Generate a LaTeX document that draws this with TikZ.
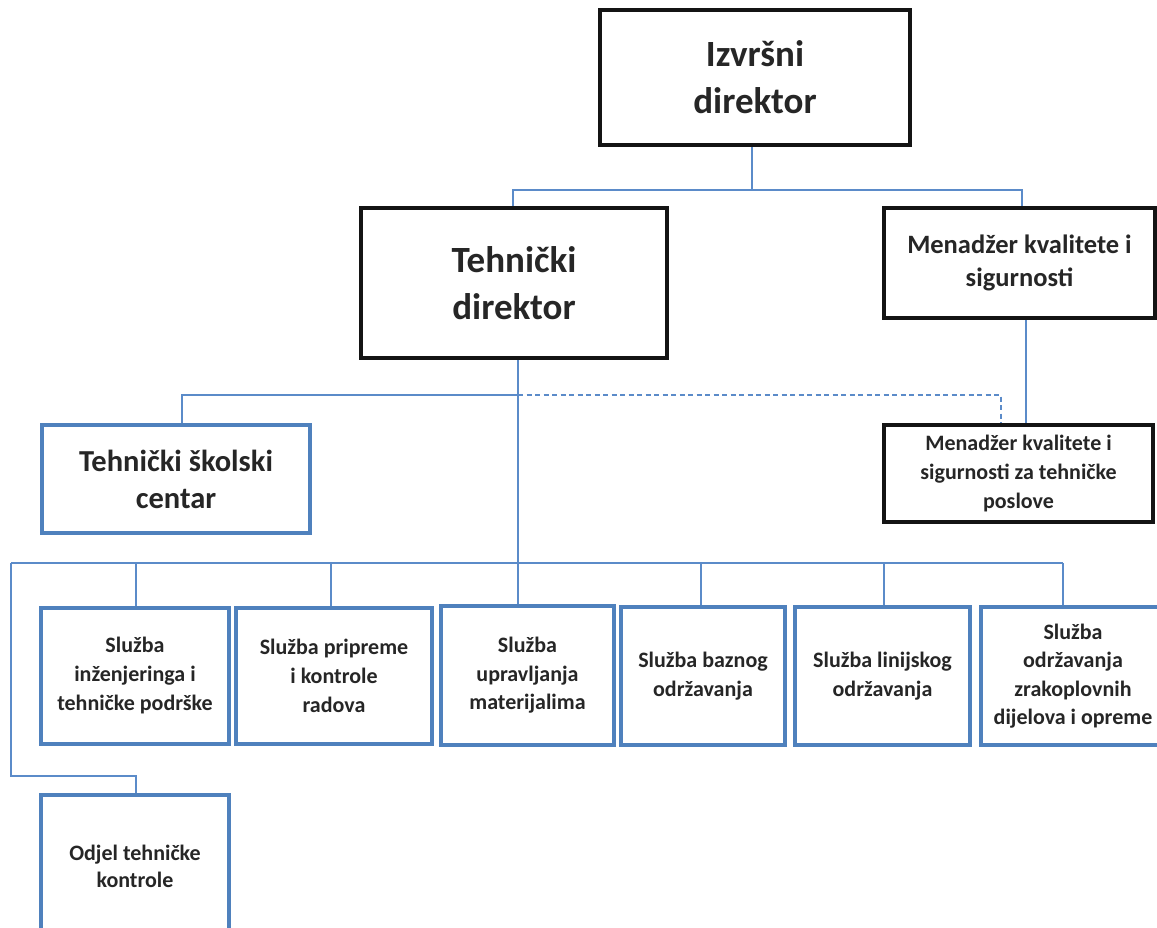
\documentclass[tikz,border=0pt]{standalone}
\usepackage{fontspec}
\setmainfont{Carlito}
\definecolor{linkblue}{HTML}{5B8BC9}
\definecolor{boxblue}{HTML}{4F81BD}
\definecolor{ink}{HTML}{262626}
\newcommand{\fs}[2]{\fontsize{#1}{#2}\selectfont}
\tikzset{
  unitbox/.style={rectangle, fill=white, align=center, text=ink, inner sep=0pt},
  blackbox/.style={unitbox, draw=black!92, line width=4.5pt},
  bluebox/.style={unitbox, draw=boxblue, line width=4pt},
  big/.style={font=\bfseries\fs{37}{47}},
  mid/.style={font=\bfseries\fs{#1}{\the\numexpr#1*5/4\relax}},
  small/.style={font=\bfseries\fs{22}{28.5}},
  conn/.style={draw=linkblue, line width=1.5pt},
  dashconn/.style={conn, dash pattern=on 5pt off 3.5pt},
}
\begin{document}
\begin{tikzpicture}[x=1pt, y=-1pt]
  \useasboundingbox (0,0) rectangle (1157,928);
  \clip (0,0) rectangle (1157,928);
  \fill[white] (0,0) rectangle (1157,928);

  % junction points of the connector tree
  \coordinate (j1) at (752,190);
  \coordinate (j2) at (518,395);
  \coordinate (j3) at (518,563);
  \coordinate (bL) at (11,563);
  \coordinate (b1) at (136,563);
  \coordinate (b2) at (331,563);
  \coordinate (b4) at (701,563);
  \coordinate (b5) at (884,563);
  \coordinate (b6) at (1063,563);

  % connectors (drawn first, boxes go on top)
  \path[conn] (j1) -- (513,190) -- (513,215);
  \path[conn] (j1) -- (1022,190) -- (1022,215);
  \path[conn] (752,140) -- (j1);
  \path[conn] (518,350) -- (j2) -- (j3);
  \path[conn] (j2) -- (182,395) -- (182,430);
  \path[dashconn] (j2) -- (1001,395) -- (1001,425);
  \path[conn] (1026,312) -- (1026,428);
  \path[conn] (bL) -- (b6);
  \path[conn] (bL) -- (11,776) -- (136,776) -- (136,800);
  \foreach \b in {b1,b2,b4,b5,b6} { \path[conn] (\b) -- ++(0,46); }
  \path[conn] (j3) -- ++(0,46);

  % top level
  \node[blackbox, big, minimum width=310, minimum height=135] (ceo) at (755,77.5)
    {Izvršni\\direktor};
  \node[blackbox, big, minimum width=306, minimum height=150] (tech) at (514,283)
    {Tehnički\\direktor};
  \node[blackbox, font=\bfseries\fs{26.5}{33}, minimum width=271, minimum height=110] (qm) at (1019.5,263)
    {Menadžer kvalitete i\\sigurnosti};

  % second level
  \node[bluebox, font=\bfseries\fs{30.5}{37}, minimum width=268, minimum height=108] (school) at (176,479)
    {Tehnički školski\\centar};
  \node[blackbox, font=\bfseries\fs{22}{29}, minimum width=269, minimum height=97] (qmt) at (1018.5,473.5)
    {Menadžer kvalitete i\\sigurnosti za tehničke\\poslove};

  % services
  \node[bluebox, font=\bfseries\fs{22}{29}, minimum width=188, minimum height=136] (s1) at (135,676)
    {Služba\\inženjeringa i\\tehničke podrške};
  \node[bluebox, font=\bfseries\fs{22}{29}, minimum width=196, minimum height=136] (s2) at (334,676)
    {Služba pripreme\\i kontrole\\radova};
  \node[bluebox, small, minimum width=173, minimum height=139] (s3) at (527.5,675.5)
    {Služba\\upravljanja\\materijalima};
  \node[bluebox, small, minimum width=164, minimum height=138] (s4) at (703,676)
    {\raisebox{-4pt}{\parbox{160pt}{\centering Služba baznog\\održavanja}}};
  \node[bluebox, small, minimum width=175, minimum height=138] (s5) at (882.5,676)
    {\raisebox{-4pt}{\parbox{170pt}{\centering Služba linijskog\\održavanja}}};
  \node[bluebox, small, minimum width=184, minimum height=138] (s6) at (1073,676)
    {Služba\\održavanja\\zrakoplovnih\\dijelova i opreme};
  \node[bluebox, font=\bfseries\fs{22}{27}, minimum width=188, minimum height=142] (odjel) at (135,866)
    {Odjel tehničke\\kontrole};
\end{tikzpicture}
\end{document}
